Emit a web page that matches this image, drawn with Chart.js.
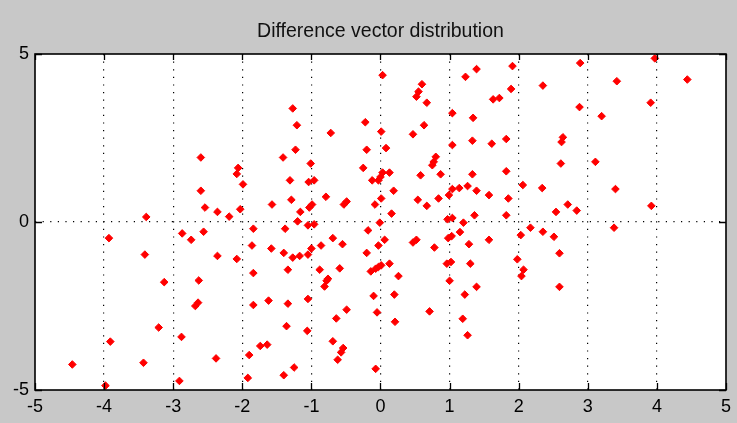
<!DOCTYPE html>
<html>
<head>
<meta charset="utf-8">
<script src="https://cdn.jsdelivr.net/npm/chart.js@4/dist/chart.umd.min.js"></script>
<style>
  html, body { margin: 0; padding: 0; background: #c8c8c8; }
  #wrap { width: 737px; height: 423px; }
</style>
</head>
<body>
<div id="wrap"><canvas id="diffChart" width="737" height="423"></canvas></div>
<script>
// x / y components of the difference vectors
const diffX = [
  -4.46, -3.98, -3.93, -3.91, -3.43, -3.41, -3.39, -3.21, -3.13,
  -2.91, -2.88, -2.87, -2.74, -2.68, -2.64, -2.63, -2.60, -2.60, -2.56, -2.54,
  -2.38, -2.36, -2.36, -2.19, -2.08, -2.08, -2.06, -2.03, -1.99,
  -1.92, -1.90, -1.86, -1.84, -1.84, -1.84, -1.74, -1.64, -1.62, -1.58, -1.57,
  -1.41, -1.40, -1.40, -1.38, -1.36, -1.34, -1.34, -1.31, -1.29, -1.27, -1.27,
  -1.25, -1.23, -1.21, -1.20, -1.17, -1.16, -1.06, -1.05, -1.05, -1.05,
  -1.04, -1.03, -1.01, -1.00, -0.99, -0.96, -0.96,
  -0.88, -0.86, -0.81, -0.79, -0.78, -0.76, -0.72, -0.69, -0.69, -0.64,
  -0.62, -0.59, -0.57, -0.55, -0.54, -0.53, -0.49, -0.49,
  -0.25, -0.22, -0.20, -0.20, -0.18, -0.14, -0.12, -0.10, -0.08, -0.07, -0.07,
  -0.05, -0.03, -0.03, -0.03, -0.01, 0.00, 0.01, 0.01, 0.01, 0.03, 0.03,
  0.06, 0.08, 0.13, 0.13, 0.16, 0.19, 0.20, 0.21, 0.26,
  0.47, 0.47, 0.52, 0.52, 0.54, 0.55, 0.58, 0.60, 0.63, 0.67, 0.67,
  0.71, 0.75, 0.77, 0.78, 0.80, 0.84, 0.87,
  0.96, 0.97, 0.98, 0.99, 1.00, 1.02, 1.03, 1.04, 1.04, 1.04, 1.04,
  1.14, 1.15, 1.19, 1.20, 1.22, 1.23, 1.26, 1.26, 1.28, 1.30,
  1.33, 1.33, 1.34, 1.36, 1.39, 1.39, 1.39,
  1.57, 1.57, 1.61, 1.63, 1.72, 1.82, 1.82, 1.82, 1.85, 1.89, 1.91,
  1.98, 2.03, 2.04, 2.06, 2.07, 2.17, 2.34, 2.35, 2.35,
  2.51, 2.54, 2.59, 2.59, 2.61, 2.62, 2.64, 2.71, 2.84, 2.88, 2.89,
  3.11, 3.20, 3.38, 3.40, 3.42, 3.91, 3.92, 3.97, 4.44
];
const diffY = [
  -4.24, -4.87, -0.48, -3.56, -4.19, -0.97, 0.15, -3.14, -1.79,
  -4.73, -3.42, -0.34, -0.53, -2.50, -2.40, -1.74, 1.92, 0.93, -0.29, 0.43,
  -4.06, -1.01, 0.30, 0.16, -1.10, 1.43, 1.61, 0.38, 1.12,
  -4.64, -3.96, -0.70, -0.20, -1.52, -2.47, -3.69, -3.65, -2.34, -0.79, 0.52,
  1.92, -0.92, -4.56, -0.20, -3.10, -1.42, -2.43, 1.24, 0.66, -1.06, 3.38,
  -4.33, 2.15, 2.88, 0.02, -1.01, 0.30, -3.24, -0.10, -0.97, -2.29,
  1.19, 0.43, 1.74, -0.79, 0.52, -0.07, 1.24,
  -1.42, -0.70, -1.92, 0.75, -1.75, -1.69, 2.65, -0.48, -3.55, -2.87,
  -4.10, -1.38, -3.88, -0.66, -3.75, 0.52, -2.61, 0.61,
  1.61, 2.97, 2.15, -0.92, -0.25, -1.47, 1.24, -2.20, 0.52, -1.39, -4.37,
  -2.69, 1.24, -0.70, -1.34, -0.02, 1.34, 2.69, 0.70, -1.29, 4.37, 1.47,
  -0.53, 2.20, 1.47, -1.24, 0.25, 0.93, -2.16, -2.97, -1.61,
  2.61, -0.61, 3.73, -0.53, 0.66, 3.88, 1.39, 4.10, 2.88, 3.55, 0.48,
  -2.66, 1.69, 1.79, -0.76, 1.94, 0.70, 1.42,
  -1.24, 0.08, -0.48, 0.80, -1.75, -1.19, -0.42, 3.24, 2.29, 0.98, 0.12,
  1.01, -0.30, -2.88, -0.02, -2.16, 4.32, 1.07, -3.37, -0.66, -1.24,
  2.42, 1.42, 3.10, 0.20, 4.55, 0.93, -1.93,
  0.80, -0.53, 2.33, 3.65, 3.69, 2.47, 1.51, 0.20, 0.70, 3.96, 4.64,
  -1.11, -0.39, -1.61, 1.10, -1.42, -0.17, 1.01, 4.06, -0.29,
  -0.44, 0.30, -0.93, -1.93, 1.74, 2.38, 2.52, 0.52, 0.34, 3.42, 4.73,
  1.79, 3.15, -0.17, 0.98, 4.19, 3.55, 0.48, 4.87, 4.24
];

const xTicks = [-5, -4, -3, -2, -1, 0, 1, 2, 3, 4, 5];
const yTicks = [-5, 0, 5];
const chartTitle = 'Difference vector distribution';

const points = diffX.map((x, i) => ({ x: x, y: diffY[i] }));

const axisFont = { family: "'Liberation Sans', Arial, sans-serif", size: 18 };

// white axes box, black frame and inward tick marks
const axesBox = {
  id: 'axesBox',
  beforeDraw(chart) {
    const { ctx, chartArea: a } = chart;
    ctx.save();
    ctx.fillStyle = '#ffffff';
    ctx.fillRect(a.left, a.top, a.right - a.left, a.bottom - a.top);
    ctx.restore();
  },
  afterDatasetsDraw(chart) {
    const { ctx, chartArea: a, scales } = chart;
    ctx.save();
    ctx.strokeStyle = '#000000';
    ctx.lineWidth = 1.3;
    ctx.beginPath();
    xTicks.forEach(v => {
      const px = Math.round(scales.x.getPixelForValue(v)) + 0.5;
      ctx.moveTo(px, a.bottom); ctx.lineTo(px, a.bottom - 7);
      ctx.moveTo(px, a.top); ctx.lineTo(px, a.top + 6);
    });
    yTicks.forEach(v => {
      const py = Math.round(scales.y.getPixelForValue(v)) + 0.5;
      ctx.moveTo(a.left, py); ctx.lineTo(a.left + 7, py);
      ctx.moveTo(a.right, py); ctx.lineTo(a.right - 7, py);
    });
    ctx.stroke();
    ctx.lineWidth = 1.6;
    ctx.strokeRect(a.left, a.top, a.right - a.left, a.bottom - a.top);
    ctx.restore();
  }
};

const canvasBg = {
  id: 'canvasBg',
  beforeDraw(chart) {
    const ctx = chart.ctx;
    ctx.save();
    ctx.fillStyle = '#c8c8c8';
    ctx.fillRect(0, 0, chart.width, chart.height);
    ctx.restore();
  }
};

new Chart(document.getElementById('diffChart'), {
  type: 'scatter',
  data: {
    datasets: [{
      data: points,
      pointStyle: 'rectRot',
      pointRadius: 3.8,
      pointBorderWidth: 1,
      backgroundColor: '#ff0000',
      borderColor: '#ff0000'
    }]
  },
  options: {
    responsive: false,
    animation: false,
    events: [],
    layout: { padding: { left: 0, right: 7, top: 0, bottom: 0 } },
    plugins: {
      legend: { display: false },
      tooltip: { enabled: false },
      title: {
        display: true,
        fullSize: false,
        text: chartTitle,
        color: '#111111',
        font: { family: "'Liberation Sans', Arial, sans-serif", size: 19.5, weight: 'normal' },
        padding: { top: 20, bottom: 10.6 }
      }
    },
    scales: {
      x: {
        type: 'linear',
        min: -5,
        max: 5,
        afterBuildTicks: s => { s.ticks = xTicks.map(v => ({ value: v })); },
        afterFit: s => { s.height = 33; },
        border: { display: false, dash: [1.2, 6.4] },
        grid: {
          drawTicks: false,
          color: c => (c.tick && Math.abs(c.tick.value) < 5 ? '#000000' : 'rgba(0,0,0,0)'),
          lineWidth: 1.2
        },
        ticks: { color: '#000000', font: axisFont, padding: 6, maxRotation: 0 }
      },
      y: {
        type: 'linear',
        min: -5,
        max: 5,
        afterBuildTicks: s => { s.ticks = yTicks.map(v => ({ value: v })); },
        afterFit: s => { s.width = 35; },
        border: { display: false, dash: [1.2, 6.4] },
        grid: {
          drawTicks: false,
          color: c => (c.tick && c.tick.value === 0 ? '#000000' : 'rgba(0,0,0,0)'),
          lineWidth: 1.2
        },
        ticks: { color: '#000000', font: axisFont, padding: 6 }
      }
    }
  },
  plugins: [canvasBg, axesBox]
});
</script>
</body>
</html>
